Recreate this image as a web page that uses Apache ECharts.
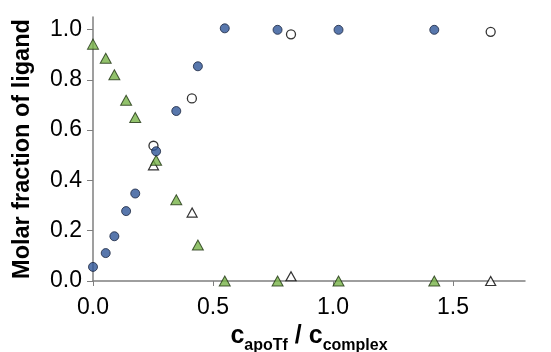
<!DOCTYPE html>
<html>
<head>
<meta charset="utf-8">
<script src="https://cdn.jsdelivr.net/npm/echarts@6/dist/echarts.min.js"></script>
<style>
  html, body { margin: 0; padding: 0; background: #fff; }
  #box { width: 551px; height: 352px; }
</style>
</head>
<body>
<div id="box"></div>
<script>
// x = c_apoTf / c_complex, y = molar fraction of ligand
var bound = [[0, 0.056], [0.053, 0.111], [0.089, 0.178], [0.138, 0.278], [0.176, 0.348],
             [0.263, 0.516], [0.347, 0.676], [0.437, 0.854], [0.549, 1.005], [0.769, 0.999],
             [1.023, 0.999], [1.422, 0.999]];
var boundOpen = [[0.252, 0.538], [0.412, 0.726], [0.825, 0.981], [1.657, 0.991]];
var free = [[0, 0.942], [0.053, 0.886], [0.089, 0.820], [0.138, 0.719], [0.176, 0.650],
            [0.263, 0.480], [0.347, 0.323], [0.437, 0.143], [0.549, 0], [0.769, 0],
            [1.023, 0], [1.422, 0]];
var freeOpen = [[0.252, 0.460], [0.413, 0.272], [0.825, 0.019], [1.657, 0]];
var xTicks = [0, 0.5, 1.0, 1.5];
var yTicks = [0, 0.2, 0.4, 0.6, 0.8, 1.0];

var chart = echarts.init(document.getElementById('box'));
var axisFont = 'Liberation Sans, Arial, sans-serif';

var option = {
    animation: false,
    grid: { left: 93, right: 26, top: 17, bottom: 71, outerBoundsMode: 'none', containLabel: false },
    xAxis: {
        type: 'value', min: 0, max: 1.8,
        axisLine: { lineStyle: { color: '#7f7f7f', width: 1.5 } },
        axisTick: { show: true, length: 5, customValues: xTicks, lineStyle: { color: '#7f7f7f' } },
        axisLabel: {
            customValues: xTicks, margin: 15, color: '#000', fontSize: 23, fontFamily: axisFont,
            formatter: function (v) { return v.toFixed(1); }
        },
        splitLine: { show: false },
        name: '{c|c}{s|apoTf}{c| / c}{s|complex}',
        nameLocation: 'middle', nameGap: 34,
        nameTextStyle: {
            rich: {
                c: { fontSize: 25, fontWeight: 'bold', fontFamily: axisFont, color: '#000' },
                s: { fontSize: 16, fontWeight: 'bold', fontFamily: axisFont, color: '#000', verticalAlign: 'bottom', padding: [0, 0, -5, 0] }
            }
        }
    },
    yAxis: {
        type: 'value', min: 0, max: 1.05,
        axisLine: { show: true, lineStyle: { color: '#7f7f7f', width: 1.5 } },
        axisTick: { show: true, length: 6, customValues: yTicks, lineStyle: { color: '#7f7f7f' } },
        axisLabel: {
            customValues: yTicks, margin: 11, color: '#000', fontSize: 23, fontFamily: axisFont,
            formatter: function (v) { return v.toFixed(1); }
        },
        splitLine: { show: false },
        name: 'Molar fraction of ligand',
        nameLocation: 'middle', nameGap: 58,
        nameTextStyle: { fontSize: 23.5, fontWeight: 'bold', fontFamily: axisFont, color: '#000' }
    },
    series: [
        {
            type: 'scatter', data: freeOpen, symbol: 'triangle', symbolSize: [10, 9],
            itemStyle: { color: '#fff', borderColor: '#000', borderWidth: 1.2 }
        },
        {
            type: 'scatter', data: free, symbol: 'triangle', symbolSize: [11, 10],
            itemStyle: { color: '#77b347', borderColor: '#1e3310', borderWidth: 1 }
        },
        {
            type: 'scatter', data: boundOpen, symbol: 'circle', symbolSize: 9,
            itemStyle: { color: '#fff', borderColor: '#000', borderWidth: 1.3 }
        },
        {
            type: 'scatter', data: bound, symbol: 'circle', symbolSize: 9,
            itemStyle: { color: '#2e5597', borderColor: '#1a2640', borderWidth: 1 }
        }
    ]
};
chart.setOption(option, true);
</script>
</body>
</html>
